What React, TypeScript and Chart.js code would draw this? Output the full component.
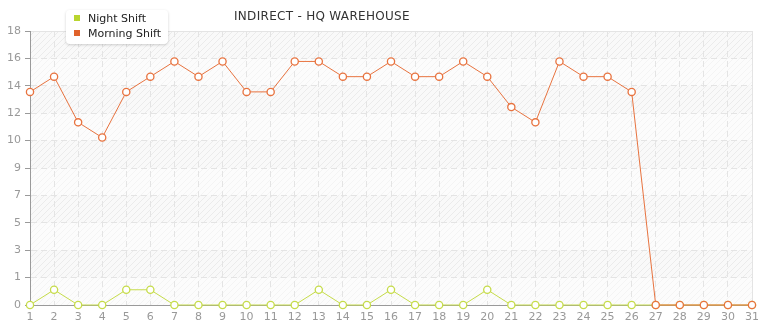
import React, { useEffect, useRef } from "react";
import { Chart, registerables } from "chart.js";

Chart.register(...registerables);

const DAYS = Array.from({ length: 31 }, (_, i) => String(i + 1));
const MORNING_SHIFT = [14, 15, 12, 11, 14, 15, 16, 15, 16, 14, 14, 16, 16, 15, 15, 16, 15, 15, 16, 15, 13, 12, 16, 15, 15, 14, 0, 0, 0, 0, 0];
const NIGHT_SHIFT = [0, 1, 0, 0, 1, 1, 0, 0, 0, 0, 0, 0, 1, 0, 0, 1, 0, 0, 0, 1, 0, 0, 0, 0, 0, 0, 0, 0, 0, 0, 0];
const Y_TICK_LABELS = ["0", "1", "3", "5", "7", "9", "10", "12", "14", "16", "18"];
const Y_MAX = 18;

const TITLE = "INDIRECT - HQ WAREHOUSE";
const MORNING_COLOR = "#e8733f";
const NIGHT_COLOR = "#c6dc4a";
const FONT = "'DejaVu Sans', Verdana, sans-serif";

function makeHatch(): CanvasPattern | string {
  const c = document.createElement("canvas");
  c.width = 6;
  c.height = 6;
  const g = c.getContext("2d");
  if (!g) return "#f7f7f7";
  g.fillStyle = "#f9f9f9";
  g.fillRect(0, 0, 6, 6);
  g.strokeStyle = "#ebebeb";
  g.lineWidth = 1;
  g.beginPath();
  g.moveTo(0, 6);
  g.lineTo(6, 0);
  g.moveTo(-3, 3);
  g.lineTo(3, -3);
  g.moveTo(3, 9);
  g.lineTo(9, 3);
  g.stroke();
  const p = g.createPattern ? g.createPattern(c, "repeat") : null;
  return p || "#f7f7f7";
}

// hatched plot background with every other horizontal band lightened
const backdrop = {
  id: "backdrop",
  beforeDraw(chart: any) {
    const { ctx, chartArea, scales } = chart;
    const { left, right, top, bottom } = chartArea;
    ctx.save();
    ctx.fillStyle = makeHatch();
    ctx.fillRect(left, top, right - left, bottom - top);
    const ticks = scales.y.ticks;
    for (let i = 0; i < ticks.length - 1; i += 2) {
      const y0 = scales.y.getPixelForValue(ticks[i].value);
      const y1 = scales.y.getPixelForValue(ticks[i + 1].value);
      ctx.fillStyle = "rgba(255,255,255,0.45)";
      ctx.fillRect(left, y1, right - left, y0 - y1);
    }
    ctx.restore();
  },
};

export default function App() {
  const ref = useRef<HTMLCanvasElement>(null);

  useEffect(() => {
    if (!ref.current) return;
    const lastY = Y_TICK_LABELS.length - 1;
    const lineDataset = (label: string, data: number[], color: string) => ({
      label,
      data,
      borderColor: color,
      backgroundColor: "#ffffff",
      pointBorderColor: color,
      pointBackgroundColor: "#ffffff",
      borderWidth: 1,
      pointRadius: 3.6,
      pointBorderWidth: 1.3,
      tension: 0,
      clip: false as any,
    });
    const chart = new Chart(ref.current, {
      type: "line",
      data: {
        labels: DAYS,
        datasets: [
          lineDataset("Morning Shift", MORNING_SHIFT, MORNING_COLOR),
          lineDataset("Night Shift", NIGHT_SHIFT, NIGHT_COLOR),
        ],
      },
      options: {
        responsive: false,
        animation: false,
        layout: { padding: { top: 31, right: 13, left: 0, bottom: 0 } },
        plugins: {
          legend: { display: false },
          title: { display: false },
          tooltip: { enabled: false },
        },
        scales: {
          x: {
            grid: {
              color: "#e4e4e4",
              drawTicks: false,
              lineWidth: 1,
            },
            border: {
              display: true,
              color: "#9a9a9a",
              width: 1,
              dash: (c: any) => (c.index === DAYS.length - 1 ? [] : [6, 4]),
            },
            ticks: {
              autoSkip: false,
              maxRotation: 0,
              padding: 6,
              color: "#999999",
              font: { family: FONT, size: 11 },
            },
            afterFit(scale: any) {
              scale.height = 15;
            },
          },
          y: {
            min: 0,
            max: Y_MAX,
            afterBuildTicks(scale: any) {
              scale.ticks = Y_TICK_LABELS.map((_, i) => ({ value: (i * Y_MAX) / lastY }));
            },
            grid: {
              color: "#e4e4e4",
              tickColor: "#9a9a9a",
              tickLength: 5,
              lineWidth: 1,
              tickBorderDash: [],
            } as any,
            border: {
              display: true,
              color: "#9a9a9a",
              width: 1,
              dash: (c: any) => (c.index === lastY ? [] : [6, 4]),
            },
            ticks: {
              padding: 4,
              color: "#999999",
              font: { family: FONT, size: 11 },
              callback: (_v: any, i: number) => Y_TICK_LABELS[i],
            },
            afterFit(scale: any) {
              scale.width = 30;
            },
          },
        },
      },
      plugins: [backdrop],
    });
    return () => chart.destroy();
  }, []);

  return (
    <div style={{ position: "fixed", left: 0, top: 0, width: 765, height: 320, background: "#ffffff", overflow: "hidden" }}>
      <canvas ref={ref} width={765} height={320} style={{ display: "block" }} />
      <div
        style={{
          position: "absolute",
          left: 234,
          top: 9,
          font: `12px ${FONT}`,
          letterSpacing: "0.3px",
          color: "#333333",
          whiteSpace: "nowrap",
        }}
      >
        {TITLE}
      </div>
      <div
        style={{
          position: "absolute",
          left: 66,
          top: 10,
          width: 102,
          height: 34,
          background: "#ffffff",
          borderRadius: 4,
          boxShadow: "0 1px 3px rgba(0,0,0,0.18)",
          font: `11px ${FONT}`,
          color: "#222222",
        }}
      >
        {[
          { label: "Night Shift", color: "#b9d52f" },
          { label: "Morning Shift", color: "#e0622a" },
        ].map((it, i) => (
          <div key={it.label} style={{ position: "absolute", left: 8, top: 1 + i * 15, display: "flex", alignItems: "center", height: 14 }}>
            <span style={{ display: "inline-block", width: 6, height: 6, background: it.color, marginRight: 8 }} />
            <span>{it.label}</span>
          </div>
        ))}
      </div>
    </div>
  );
}
